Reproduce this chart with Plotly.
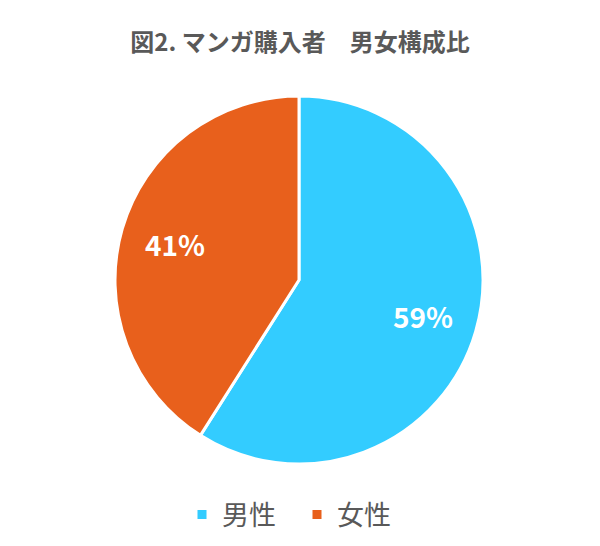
import math
import plotly.graph_objects as go

labels = ["男性", "女性"]
values = [59, 41]
text_labels = ["59%", "41%"]
colors = ["#33CCFF", "#E8601C"]

fig = go.Figure(go.Pie(
    labels=labels,
    values=values,
    textinfo="none",
    marker=dict(colors=colors, line=dict(color="white", width=3)),
    sort=False,
    direction="clockwise",
    rotation=0,
    hole=0,
))

# percentage labels placed at the middle angle of each slice
pie_r = 180 / 368
label_r = 0.72 * pie_r
total = sum(values)
start = 90.0
for val, txt in zip(values, text_labels):
    mid = math.radians(start - val / total * 360 / 2)
    start -= val / total * 360
    fig.add_annotation(
        x=0.5 + label_r * math.cos(mid), y=0.5 + label_r * math.sin(mid),
        xref="paper", yref="paper", xanchor="center", yanchor="middle",
        text="<b>%s</b>" % txt, showarrow=False,
        font=dict(color="white", size=28, family="Noto Sans CJK JP"),
    )

# title and legend
fig.update_layout(
    title=dict(
        text="<b>図2. マンガ購入者　男女構成比</b>",
        xref="container", x=292 / 600, xanchor="center",
        yref="container", y=1 - 35 / 546, yanchor="middle",
        font=dict(size=24, color="#595959", family="Noto Sans CJK JP"),
    ),
    legend=dict(
        orientation="h",
        xref="container", x=289 / 600, xanchor="center",
        yref="container", y=1 - 507 / 546, yanchor="middle",
        font=dict(size=27, color="#595959", family="Noto Sans CJK JP"),
        entrywidth=70, entrywidthmode="pixels",
    ),
    paper_bgcolor="white",
    plot_bgcolor="white",
    margin=dict(t=88, b=90, l=107, r=125),
    width=600,
    height=546,
)

fig.write_html("out.html")
